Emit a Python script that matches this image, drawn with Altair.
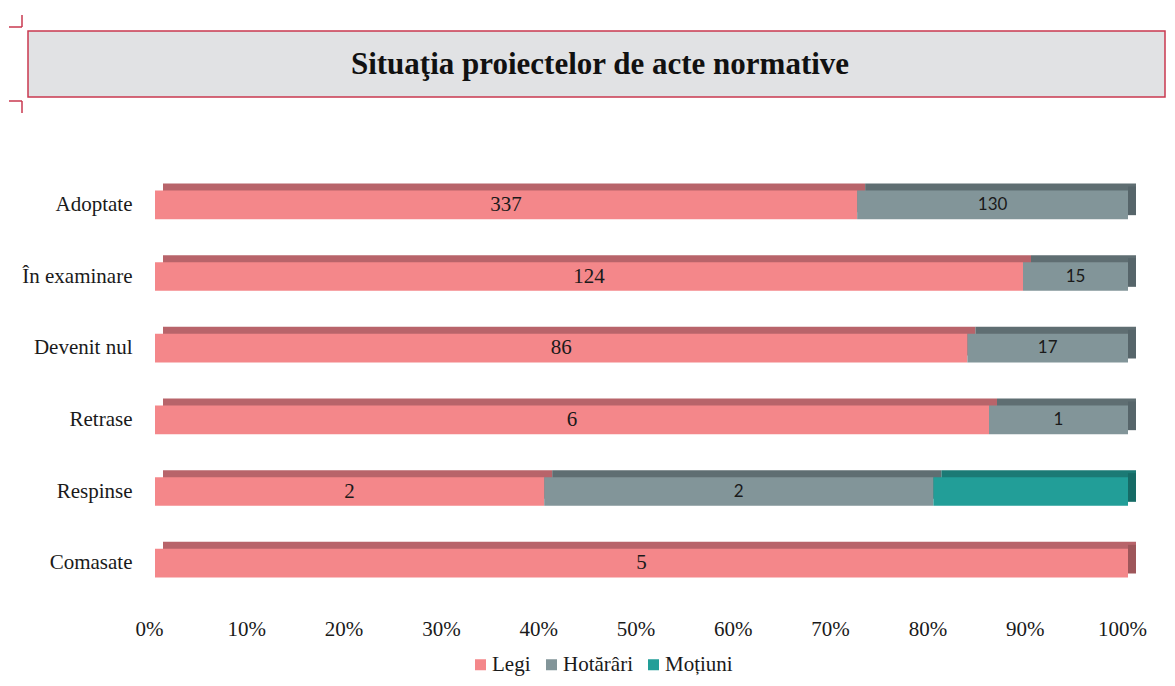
import altair as alt
import pandas as pd

categories = ["Adoptate", "În examinare", "Devenit nul", "Retrase", "Respinse", "Comasate"]
series = ["Legi", "Hotărâri", "Moțiuni"]
legi = [337, 124, 86, 6, 2, 5]
hotarari = [130, 15, 17, 1, 2, 0]
motiuni = [0, 0, 0, 0, 1, 0]
tick_values = [0, 0.1, 0.2, 0.3, 0.4, 0.5, 0.6, 0.7, 0.8, 0.9, 1.0]
title_text = "Situaţia proiectelor de acte normative"

front_colors = ["#f4878a", "#829599", "#229e98"]
back_colors = ["#b8646a", "#5f6e72", "#1b7a75"]
side_colors = ["#9e565a", "#56656a", "#166b66"]
accent = "#c9394f"
SERIF = "Liberation Serif"
SANS = "Lato"

rows = []
for i, c in enumerate(categories):
    for j, (s, vals) in enumerate(zip(series, [legi, hotarari, motiuni])):
        if vals[i] > 0:
            rows.append({"cat": c, "series": s, "order": j, "value": vals[i]})
df = pd.DataFrame(rows)

W, H = 973, 430

base = alt.Chart(df).transform_stack(
    stack="value", as_=["v0", "v1"], groupby=["cat"], offset="normalize",
    sort=[alt.SortField("order", order="ascending")]
).transform_calculate(mid="(datum.v0 + datum.v1) / 2")

xenc = alt.X("v0:Q", scale=alt.Scale(domain=[0, 1], nice=False, zero=True),
             axis=alt.Axis(format="%", values=tick_values, title=None, domain=False,
                           ticks=False, grid=False, labelFont=SERIF, labelFontSize=21,
                           labelColor="#1a1a1a", labelPadding=19, labelOffset=-6,
                           labelFlush=False))
yenc = alt.Y("cat:N", sort=categories,
             scale=alt.Scale(paddingInner=0.6, paddingOuter=0.3),
             axis=alt.Axis(title=None, domain=False, ticks=False, labelFont=SERIF,
                           labelFontSize=21, labelColor="#1a1a1a", labelPadding=23))

back = base.mark_bar(xOffset=8, x2Offset=8, yOffset=-7, y2Offset=-7).encode(
    x=xenc, x2="v1:Q", y=yenc,
    color=alt.Color("series:N", scale=alt.Scale(domain=series, range=back_colors), legend=None),
)
side = base.transform_filter("datum.v1 > 0.9999").mark_bar(
    xOffset=0, x2Offset=8, yOffset=-4, y2Offset=-4
).encode(
    x=alt.X("v1:Q"), x2="v1:Q", y=alt.Y("cat:N", sort=categories),
    color=alt.Color("series:N", scale=alt.Scale(domain=series, range=side_colors), legend=None),
)
front = base.mark_bar().encode(
    x=xenc, x2="v1:Q", y=yenc,
    color=alt.Color("series:N", scale=alt.Scale(domain=series, range=front_colors),
                    legend=alt.Legend(title=None, orient="none", legendX=315, legendY=485,
                                      direction="horizontal", symbolType="square",
                                      symbolSize=121, symbolStrokeWidth=0,
                                      labelFont=SERIF, labelFontSize=21,
                                      labelColor="#1a1a1a", labelOffset=1,
                                      columnPadding=10)),
)
labels_legi = base.transform_filter("datum.series == 'Legi'").mark_text(
    font=SERIF, fontSize=21, color="#1a1a1a", baseline="middle"
).encode(x="mid:Q", y=alt.Y("cat:N", sort=categories), text="value:Q")
labels_hot = base.transform_filter("datum.series == 'Hotărâri'").mark_text(
    font=SANS, fontSize=17, color="#1a1a1a", baseline="middle"
).encode(x="mid:Q", y=alt.Y("cat:N", sort=categories), text="value:Q")

deco_df = pd.DataFrame({"a": [0]})
deco = alt.Chart(deco_df)
box = deco.mark_rect(fill="#e1e2e4", stroke=accent, strokeWidth=1.5).encode(
    x=alt.value(-127), x2=alt.value(1010), y=alt.value(-138), y2=alt.value(-72))
title = deco.mark_text(font=SERIF, fontSize=31, fontWeight="bold", color="#111111",
                       align="center", baseline="middle").encode(
    x=alt.value(445), y=alt.value(-104), text=alt.value(title_text))
c1 = deco.mark_rule(color=accent, strokeWidth=1.5).encode(
    x=alt.value(-133), y=alt.value(-154), y2=alt.value(-142))
c2 = deco.mark_rule(color=accent, strokeWidth=1.5).encode(
    x=alt.value(-146), x2=alt.value(-133), y=alt.value(-142))
c3 = deco.mark_rule(color=accent, strokeWidth=1.5).encode(
    x=alt.value(-146), x2=alt.value(-133), y=alt.value(-68))
c4 = deco.mark_rule(color=accent, strokeWidth=1.5).encode(
    x=alt.value(-133), y=alt.value(-68), y2=alt.value(-56))

chart = alt.layer(box, title, c1, c2, c3, c4, back, side, front, labels_legi, labels_hot).resolve_scale(
    color="independent"
).properties(
    width=W, height=H,
    autosize=alt.AutoSizeParams(type="none"),
    padding={"left": 147, "top": 161, "right": 39, "bottom": 79},
).configure_view(stroke=None)

chart.save("out.html", embed_options={"renderer": "svg", "actions": False})
